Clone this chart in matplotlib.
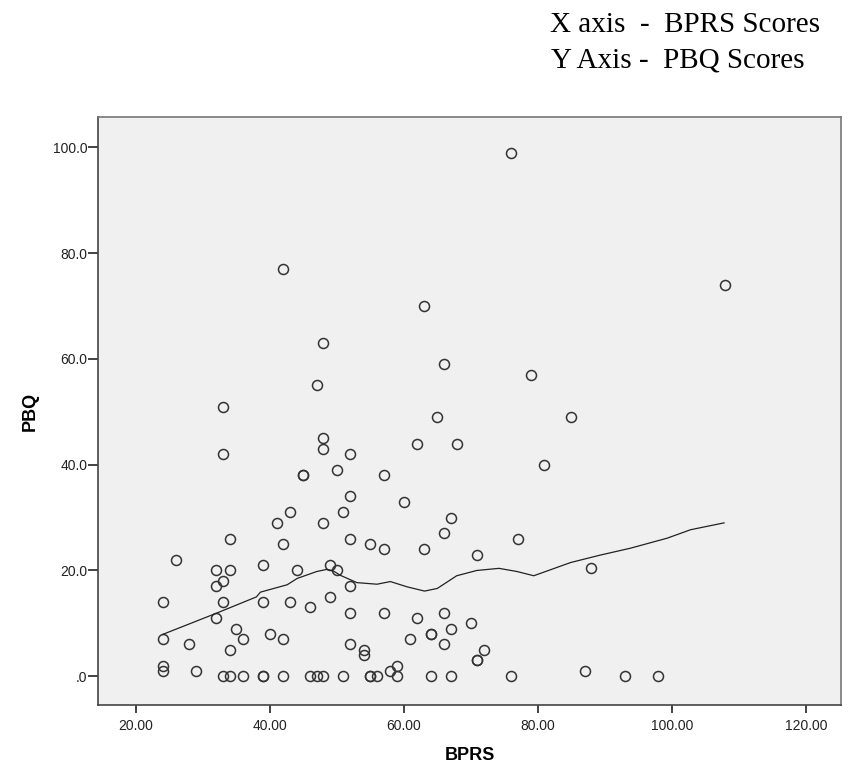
import matplotlib
matplotlib.use("Agg")
import matplotlib.pyplot as plt

# BPRS / PBQ pairs
bprs = [42, 48, 47, 33, 76, 63, 66, 79, 108,
        33, 48, 48, 50, 45, 45, 41, 43, 48, 34, 42, 26, 39, 49, 32, 34, 44, 50,
        33, 32, 24, 33, 39, 43, 46, 49, 32, 35, 40, 24, 36, 42, 28, 34, 24, 24, 29,
        33, 34, 36, 39, 39, 42, 46, 47, 48,
        65, 85, 62, 68, 52, 57, 81, 52, 60, 51, 67, 66, 52, 55, 57, 63, 77, 71, 88,
        52, 52, 57, 62, 66, 70, 67, 52, 61, 64, 64, 66, 72, 71, 71, 54, 54, 59, 58, 87,
        51, 55, 55, 56, 59, 64, 67, 76, 93, 98]
pbq = [77, 63, 55, 51, 99, 70, 59, 57, 74,
       42, 45, 43, 39, 38, 38, 29, 31, 29, 26, 25, 22, 21, 21, 20, 20, 20, 20,
       18, 17, 14, 14, 14, 14, 13, 15, 11, 9, 8, 7, 7, 7, 6, 5, 2, 1, 1,
       0, 0, 0, 0, 0, 0, 0, 0, 0,
       49, 49, 44, 44, 42, 38, 40, 34, 33, 31, 30, 27, 26, 25, 24, 24, 26, 23, 20.5,
       17, 12, 12, 11, 12, 10, 9, 6, 7, 8, 8, 6, 5, 3, 3, 5, 4, 2, 1, 1,
       0, 0, 0, 0, 0, 0, 0, 0, 0, 0]

# loess fit line
fit_x = [24, 32, 38, 38.6, 42.6, 44.1, 47, 48.5, 49.5, 50.5, 53, 56, 58, 60.5,
         63.1, 65, 67.9, 70.9, 74.2, 76.9, 79.4, 84.9, 89.3, 93.8, 99.3, 102.8, 107.8]
fit_y = [7.9, 11.9, 15.0, 15.9, 17.3, 18.5, 19.8, 20.2, 19.9, 19.1, 17.7, 17.4, 17.9, 16.9,
         16.1, 16.6, 19.0, 20.0, 20.4, 19.8, 19.0, 21.5, 22.9, 24.2, 26.1, 27.7, 29.0]

x_ticks = [20, 40, 60, 80, 100, 120]
x_labels = ["20.00", "40.00", "60.00", "80.00", "100.00", "120.00"]
y_ticks = [0, 20, 40, 60, 80, 100]
y_labels = [".0", "20.0", "40.0", "60.0", "80.0", "100.0"]

SANS = ["Liberation Sans", "DejaVu Sans"]
SERIF = ["Liberation Serif", "DejaVu Serif"]

fig = plt.figure(figsize=(8.54, 7.71), dpi=100, facecolor="white")
ax = fig.add_axes([0.1151, 0.0852, 0.8700, 0.7627])
ax.set_facecolor("#F0F0F0")

ax.plot(bprs, pbq, linestyle="none", marker="o", markersize=7.2,
        markerfacecolor="none", markeredgecolor="#333333", markeredgewidth=1.1)
ax.plot(fit_x, fit_y, color="#222222", linewidth=0.9)

ax.set_xlim(14.4, 125.3)
ax.set_ylim(-5.5, 105.7)
ax.set_xticks(x_ticks)
ax.set_xticklabels(x_labels, family=SANS, fontsize=10)
ax.set_yticks(y_ticks)
ax.set_yticklabels(y_labels, family=SANS, fontsize=10)
ax.tick_params(axis="x", direction="out", length=6, width=1.2, pad=4, colors="#222222")
ax.tick_params(axis="y", direction="out", length=7.5, width=1.2, pad=0.5, colors="#222222")

for name, s in ax.spines.items():
    s.set_linewidth(1.2)
    s.set_color("#444444" if name in ("left", "bottom") else "#777777")

ax.set_xlabel("BPRS", family=SANS, fontsize=13, fontweight="bold", labelpad=10)
ax.set_ylabel("PBQ", family=SANS, fontsize=13, fontweight="bold", labelpad=10)

fig.text(550 / 854, 1 - 32 / 771, "X axis  -  BPRS Scores", family=SERIF,
         fontsize=21, va="baseline", ha="left")
fig.text(551 / 854, 1 - 68 / 771, "Y Axis -  PBQ Scores", family=SERIF,
         fontsize=21, va="baseline", ha="left")

fig.savefig("out.png", dpi=100, facecolor="white")
